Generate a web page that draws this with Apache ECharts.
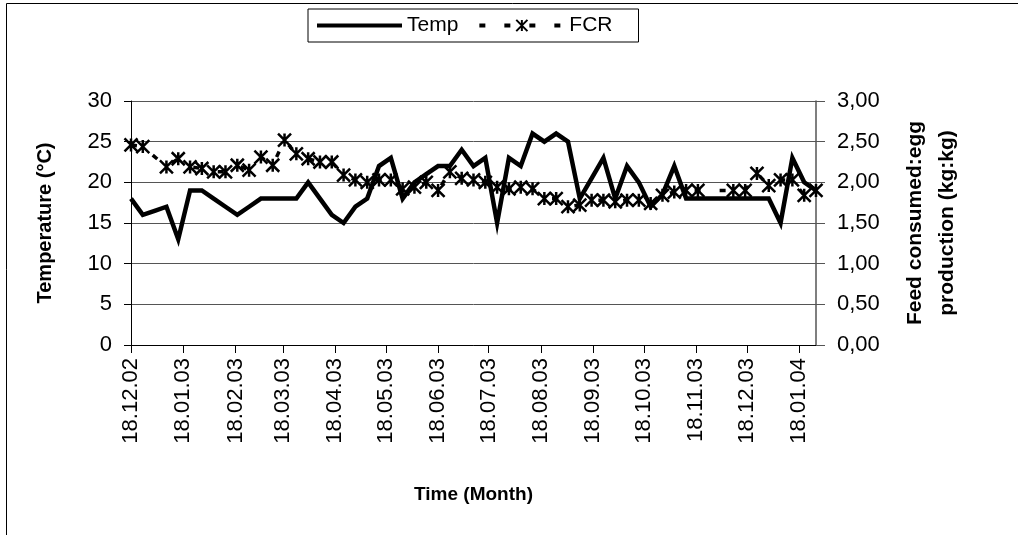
<!DOCTYPE html>
<html><head><meta charset="utf-8">
<script src="https://cdn.jsdelivr.net/npm/echarts@6/dist/echarts.min.js"></script>
<style>html,body{margin:0;padding:0;background:#fff}#c{width:1018px;height:535px}</style>
</head><body><div id="c"></div>
<script>
const dates = ['2002-12-18','2002-12-25','2003-01-01','2003-01-08','2003-01-15','2003-01-22','2003-01-29',
'2003-02-05','2003-02-12','2003-02-19','2003-02-26','2003-03-05','2003-03-12','2003-03-19','2003-03-26',
'2003-04-02','2003-04-09','2003-04-16','2003-04-23','2003-04-30','2003-05-07','2003-05-14','2003-05-21','2003-05-28',
'2003-06-04','2003-06-11','2003-06-18','2003-06-25','2003-07-02','2003-07-09','2003-07-16','2003-07-23','2003-07-30',
'2003-08-06','2003-08-13','2003-08-20','2003-08-27','2003-09-03','2003-09-10','2003-09-17','2003-09-24',
'2003-10-01','2003-10-08','2003-10-15','2003-10-22','2003-10-29','2003-11-05','2003-11-12','2003-11-19','2003-11-26',
'2003-12-03','2003-12-10','2003-12-17','2003-12-24','2003-12-31','2004-01-07','2004-01-14','2004-01-21','2004-01-28'];
const temp = [18,16,16.5,17,13,19,19,18,17,16,17,18,18,18,18,20,18,16,15,17,18,22,23,18,20,21,22,22,24,22,23,15,23,22,26,25,26,25,18,20.5,23,18,22,20,17,18.5,22,18,18,18,18,18,18,18,18,15,23,20,19];
const fcr = [2.46,2.44,null,2.19,2.29,2.19,2.17,2.13,2.13,2.21,2.15,2.31,2.21,2.52,2.35,2.29,2.25,2.25,2.09,2.03,2.00,2.03,2.03,1.92,1.94,2.00,1.90,2.13,2.05,2.03,2.00,1.94,1.92,1.94,1.92,1.80,1.80,1.70,1.72,1.78,1.78,1.76,1.78,1.78,1.74,1.84,1.88,1.90,1.90,null,null,1.90,1.90,2.11,1.96,2.03,2.03,1.84,1.90];
const xTickLabels = ['18.12.02','18.01.03','18.02.03','18.03.03','18.04.03','18.05.03','18.06.03','18.07.03','18.08.03','18.09.03','18.10.03','18.11.03','18.12.03','18.01.04'];
const axisStart = '2002-12-18';
const axisEnd = '2004-01-28';
const seriesNames = ['Temp','FCR'];
const leftAxisName = 'Temperature (°C)';
const rightAxisName = 'Feed consumed:egg\nproduction (kg:kg)';
const xAxisName = 'Time (Month)';

const DAY = 86400000;
function toDay(s){const p=s.split('-').map(Number);return Math.round(Date.UTC(p[0],p[1]-1,p[2])/DAY);}
function labelDay(l){const p=l.split('.').map(Number);return Math.round(Date.UTC(2000+p[2],p[1]-1,p[0])/DAY);}
const tickDays = xTickLabels.map(labelDay);
const labelMap = {}; xTickLabels.forEach((l,i)=>{labelMap[tickDays[i]]=l;});
const FONT = '"Liberation Sans", Arial, sans-serif';
const star = 'path://M0,0L10,10M10,0L0,10M5,0L5,10';

const chart = echarts.init(document.getElementById('c'), null, {renderer:'canvas'});
chart.setOption({
  animation:false,
  backgroundColor:'#fff',
  textStyle:{fontFamily:FONT,color:'#000'},
  graphic:[{type:'rect',shape:{x:6.5,y:3.5,width:1100,height:600},style:{fill:'none',stroke:'#000',lineWidth:1},silent:true}],
  legend:{left:308,top:9,itemWidth:85,itemHeight:14,itemGap:19,padding:[6,26,6,7],borderColor:'#000',borderWidth:1,
    textStyle:{fontSize:21,color:'#000',fontFamily:FONT},
    lineStyle:{width:4},
    data:[{name:seriesNames[0],itemStyle:{opacity:0}},{name:seriesNames[1]}]},
  grid:{left:131,right:202,top:101,bottom:190,containLabel:false},
  xAxis:{type:'value',min:toDay(axisStart),max:toDay(axisEnd),
    axisLine:{lineStyle:{color:'#000',width:1}},
    axisTick:{show:true,customValues:tickDays,length:8,lineStyle:{color:'#000'}},
    axisLabel:{customValues:tickDays,rotate:90,fontSize:22,margin:13,color:'#000',fontFamily:FONT,
      formatter:function(v){return labelMap[Math.round(v)]||'';}},
    splitLine:{show:false},
    name:xAxisName,nameLocation:'middle',nameGap:140,
    nameTextStyle:{fontSize:19,fontWeight:'bold',color:'#000',fontFamily:FONT}},
  yAxis:[
    {type:'value',min:0,max:30,interval:5,position:'left',
     axisLine:{show:true,lineStyle:{color:'#000'}},
     axisTick:{show:true,length:7,lineStyle:{color:'#000'}},
     axisLabel:{fontSize:22,color:'#000',margin:19,fontFamily:FONT},
     splitLine:{show:true,lineStyle:{color:'#555',width:1}},
     name:leftAxisName,nameLocation:'middle',nameRotate:90,nameGap:76,
     nameTextStyle:{fontSize:20,fontWeight:'bold',color:'#000',fontFamily:FONT}},
    {type:'value',min:0,max:3,interval:0.5,position:'right',
     axisLine:{show:true,lineStyle:{color:'#555',width:1.5}},
     axisTick:{show:true,length:9,lineStyle:{color:'#555'}},
     axisLabel:{fontSize:22,color:'#000',margin:21,fontFamily:FONT,
       formatter:function(v){return v.toFixed(2).replace('.',',');}},
     splitLine:{show:false},
     name:rightAxisName,nameLocation:'middle',nameRotate:90,nameGap:83,
     nameTextStyle:{fontSize:21,fontWeight:'bold',color:'#000',fontFamily:FONT,lineHeight:32,align:'center'}}
  ],
  series:[
    {name:seriesNames[0],type:'line',yAxisIndex:0,showSymbol:false,symbol:'none',
     lineStyle:{color:'#000',width:4.5,join:'miter'},itemStyle:{color:'#000'},
     data:dates.map((d,i)=>[toDay(d),temp[i]])},
    {name:seriesNames[1],type:'line',yAxisIndex:1,symbol:star,symbolSize:13,
     lineStyle:{color:'#000',width:3.5,type:[6,19],cap:'butt'},
     itemStyle:{color:'#000',borderColor:'#000',borderWidth:2.5},
     data:dates.map((d,i)=>[toDay(d),fcr[i]]).filter(p=>p[1]!==null)}
  ]
});
</script></body></html>
